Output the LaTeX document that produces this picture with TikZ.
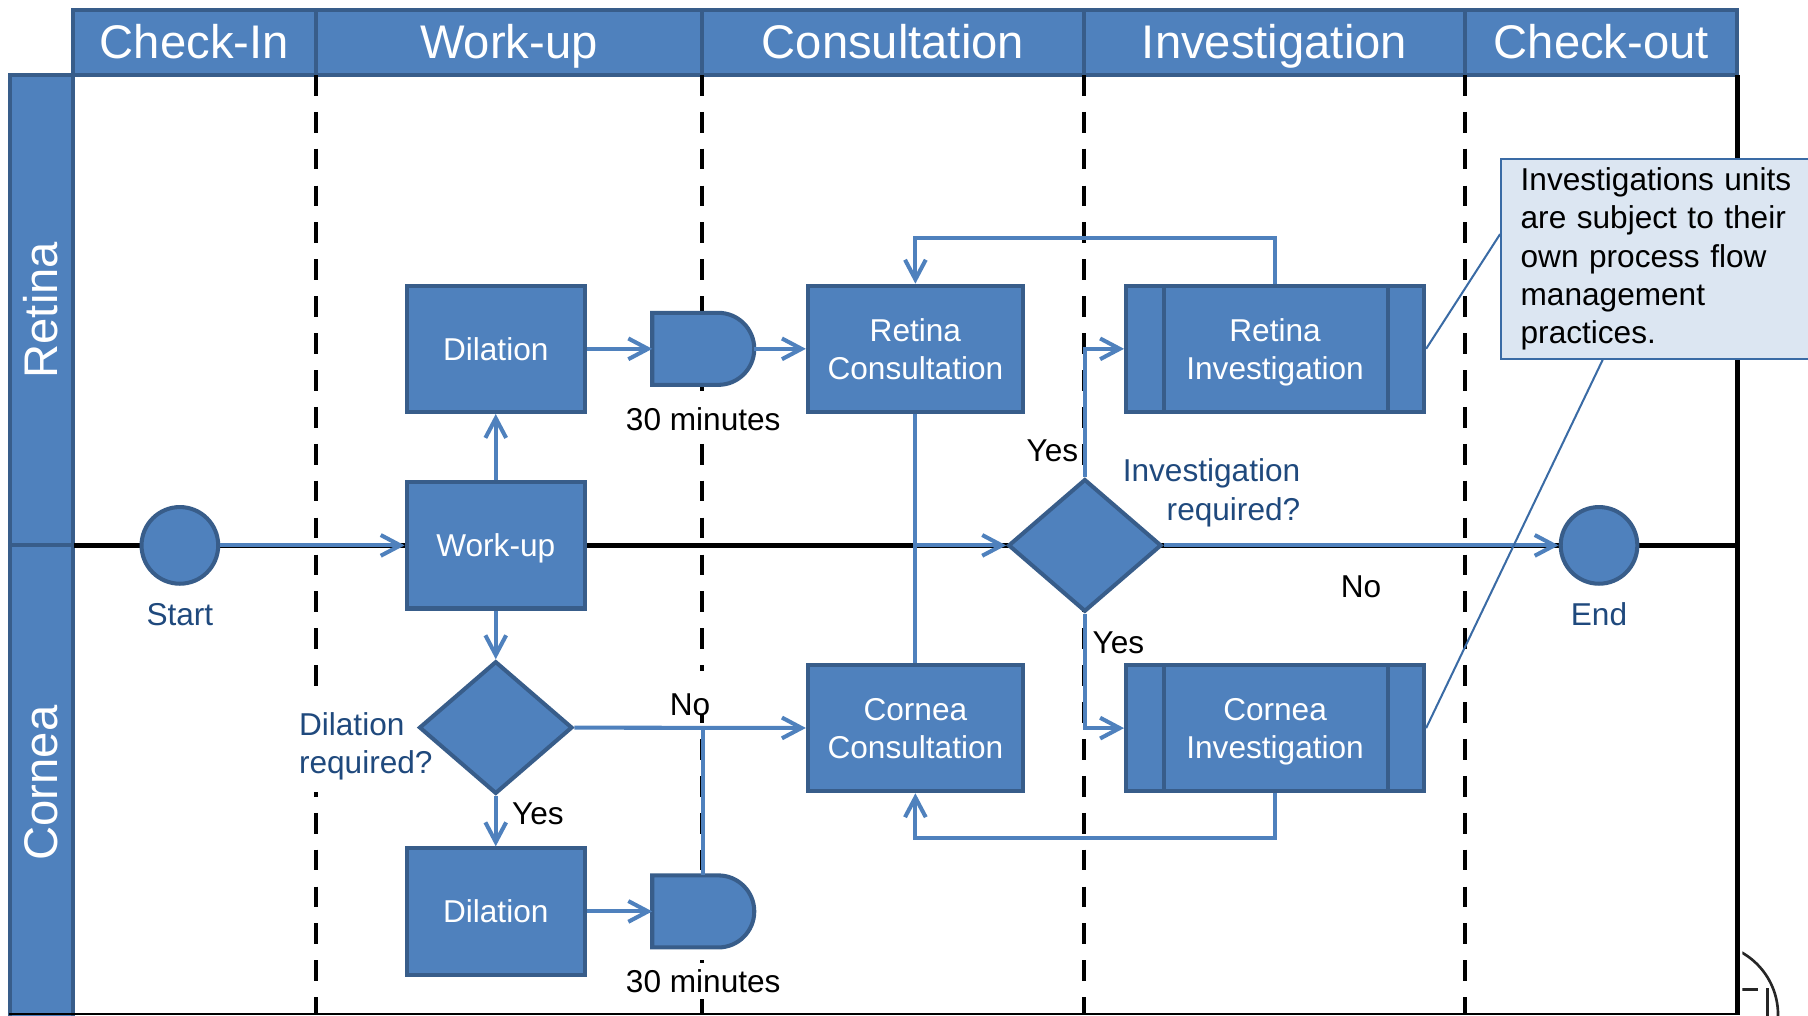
\documentclass[tikz,border=0pt]{standalone}
\usepackage{fontspec}
\setmainfont{Liberation Sans}
\usepackage{tikz}
\usetikzlibrary{shapes,arrows.meta,positioning}
\definecolor{fillblue}{HTML}{4F81BD}
\definecolor{edgeblue}{HTML}{385D8A}
\definecolor{lineblue}{HTML}{4F81BD}
\definecolor{labelblue}{HTML}{1F497D}
\definecolor{notefill}{HTML}{DCE6F2}
\definecolor{noteedge}{HTML}{3A6BA5}
\newcommand{\hdfont}{\fontsize{23.3}{28}\selectfont}
\newcommand{\boxfont}{\fontsize{15.6}{18.9}\selectfont}
\tikzstyle{header} = [rectangle, draw=edgeblue, fill=fillblue, line width=2pt, outer sep=0pt,
    inner sep=0pt, text=white, font=\hdfont, minimum height=1.12cm, text height=16pt, text depth=0pt]
\tikzstyle{lane} = [header, rotate=90, minimum height=1.08cm]
\tikzstyle{block} = [rectangle, draw=edgeblue, fill=fillblue, line width=2pt, text=white,
    font=\boxfont, align=center, minimum width=3.09cm, minimum height=2.19cm, inner sep=2pt, text depth=0pt]
\tikzstyle{subproc} = [block, minimum width=5.17cm,
    path picture={\draw[edgeblue, line width=2pt]
      ([xshift=0.66cm]path picture bounding box.south west) -- ([xshift=0.66cm]path picture bounding box.north west)
      ([xshift=-0.62cm]path picture bounding box.south east) -- ([xshift=-0.62cm]path picture bounding box.north east);}]
\tikzstyle{decision} = [diamond, draw=edgeblue, fill=fillblue, line width=2pt,
    minimum width=2.66cm, minimum height=2.3cm, inner sep=0pt]
\tikzstyle{event} = [circle, draw=edgeblue, fill=fillblue, line width=2pt, minimum size=1.33cm, inner sep=0pt]
\tikzstyle{delay} = [rectangle, minimum width=1.77cm, minimum height=1.25cm, inner sep=0pt, outer sep=0pt]
\tikzstyle{delayshape} = [draw=edgeblue, fill=fillblue, line width=2pt]
\tikzstyle{line} = [draw=lineblue, line width=2pt, -{Straight Barb[length=3.4mm,width=3.6mm]}]
\tikzstyle{link} = [draw=lineblue, line width=2pt]
\tikzstyle{swimdash} = [draw=black, line width=2pt, dash pattern=on 0.36cm off 0.28cm]
\tikzstyle{frame} = [draw=black, line width=2.3pt]
\tikzstyle{tag} = [font=\boxfont, inner sep=0pt]
\tikzstyle{wait} = [tag, fill=white, inner sep=3pt]
\tikzstyle{qtag} = [tag, text=labelblue]
\tikzstyle{note} = [rectangle, draw=noteedge, fill=notefill, line width=0.9pt, font=\boxfont,
    text width=6cm, align=left, inner xsep=0.34cm, inner ysep=0.15cm]
\tikzstyle{noteline} = [draw=noteedge, line width=1pt]

\begin{document}
\begin{tikzpicture}[x=0.02cm, y=-0.02cm]
    \useasboundingbox (0,0) rectangle (1568,881);
    \clip (0,0) rectangle (1568,881);

    % Column headers
    \node [header, minimum width=4.22cm] (hdcheckin) at (168.5,37) {Check-In};
    \node [header, minimum width=6.7cm, right=0pt of hdcheckin] (hdworkup) {Work-up};
    \node [header, minimum width=6.62cm, right=0pt of hdworkup] (hdconsult) {Consultation};
    \node [header, minimum width=6.62cm, right=0pt of hdconsult] (hdinvest) {Investigation};
    \node [header, minimum width=4.72cm, right=0pt of hdinvest] (hdcheckout) {Check-out};
    % Lanes
    \node [lane, minimum width=8.16cm] (laneretina) at (36,269) {Retina};
    \node [lane, minimum width=8.24cm] (lanecornea) at (36,679) {Cornea};

    % Pool lines
    \draw [swimdash] (hdworkup.south west) -- ++(0,815);
    \draw [swimdash] (hdconsult.south west) -- ++(0,815);
    \draw [swimdash] (hdinvest.south west) -- ++(0,815);
    \draw [swimdash] (hdcheckout.south west) -- ++(0,815);
    \draw [frame] (64,473) -- (1508,473);
    \draw [frame] (hdcheckout.south east) -- ++(0,815);
    \draw [black, line width=0.8pt] (8,879.5) -- (1508,879.5);

    % Question labels (white boxes hide the lane lines)
    \node [qtag, fill=white, inner sep=0.2cm, align=left, anchor=west] (dilqlabel) at (249,647.5) {Dilation\\required?};
    \node [qtag, align=right, anchor=east] (invqlabel) at (1128,427.5) {Investigation\\required?};

    % Place nodes
    \node [event] (start) at (156,473) {};
    \node [block, right of=start, node distance=5.48cm] (workup) {Work-up};
    \node [block, above of=workup, node distance=3.41cm] (dilretina) {Dilation};
    \node [decision, below of=workup, node distance=3.16cm] (dilq) {};
    \node [block, below of=dilq, node distance=3.19cm] (dilcornea) {Dilation};
    \node [delay, right of=dilretina, node distance=3.6cm] (delayretina) {};
    \node [delay, right of=dilcornea, node distance=3.6cm] (delaycornea) {};
    \draw [delayshape] (delayretina.south west) -- (delayretina.north west) -- ([xshift=-0.625cm]delayretina.north east)
        arc [start angle=90, end angle=-90, radius=0.625cm] -- cycle;
    \draw [delayshape] (delaycornea.south west) -- (delaycornea.north west) -- ([xshift=-0.625cm]delaycornea.north east)
        arc [start angle=90, end angle=-90, radius=0.625cm] -- cycle;
    \node [block, minimum width=3.73cm, right of=delayretina, node distance=3.68cm] (consretina) {Retina\\Consultation};
    \node [block, minimum width=3.73cm, below of=consretina, node distance=6.58cm] (conscornea) {Cornea\\Consultation};
    \node [decision, right of=workup, node distance=10.22cm] (invq) {};
    \node [subproc, right of=consretina, node distance=6.24cm] (invretina) {Retina\\Investigation};
    \node [subproc, right of=conscornea, node distance=6.24cm] (invcornea) {Cornea\\Investigation};
    \node [event, right of=invq, node distance=8.92cm] (stop) {};

    % Texts
    \node [qtag, below of=start, node distance=1.2cm] (startlabel) {Start};
    \node [qtag, below of=stop, node distance=1.2cm] (stoplabel) {End};
    \node [wait, below of=delayretina, node distance=1.22cm] (waitretina) {30 minutes};
    \node [wait, below of=delaycornea, node distance=1.21cm] (waitcornea) {30 minutes};

    % Draw edges
    \path [line] (start) -- (workup);
    \path [line] (workup) -- (dilretina);
    \path [line] (workup) -- (dilq);
    \path [line] (dilretina) -- (delayretina);
    \path [line] (delayretina) -- (consretina);
    \path [line] (dilq) -- node [tag, fill=white, inner xsep=3pt, text height=22pt, above=0.18cm] (nodil) {No} (conscornea);
    \path [line] (dilq) -- node [tag, pos=0.35, right=0.25cm] (yesdil) {Yes} (dilcornea);
    \path [line] (dilcornea) -- (delaycornea);
    \path [link] (delaycornea.north) -- (delaycornea.north |- dilq.east);
    \path [link] (consretina) -- (conscornea);
    \coordinate (merge) at (consretina.south |- invq.west);
    \path [line] (merge) -- (invq);
    \path [line] (invq.north) |- node [tag, pos=0.104, left=0.08cm] (yesretina) {Yes} (invretina.west);
    \path [line] (invq.south) |- node [tag, pos=0.126, right=0.1cm] (yescornea) {Yes} (invcornea.west);
    \path [line] (invq) -- node [tag, below=0.5cm] (noinv) {No} (stop);
    \path [line] (invretina.north) -- ++(0,-40) -| (consretina.north);
    \path [line] (invcornea.south) -- ++(0,39) -| (conscornea.south);

    % Note
    \node [note, anchor=north west] (note) at (1301,137) {Investigations units\\are subject to their\\own process flow\\management\\practices.};
    \path [noteline] ([yshift=-1.32cm]note.north west) -- (invretina.east);
    \path [noteline] ([xshift=1.78cm]note.south west) -- (invcornea.east);

    % Logo fragment
    \begin{scope}
        \clip (1511,790) rectangle (1568,881);
        \draw [black!85, line width=1.3pt] (1480,880) circle [radius=1.24cm];
        \draw [black!85, line width=1.3pt] (1510,858) -- (1525,858) (1533,857) -- (1533,881);
    \end{scope}
\end{tikzpicture}
\end{document}
